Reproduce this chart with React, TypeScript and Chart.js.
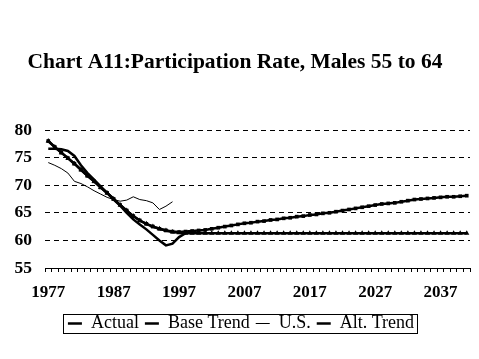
import React, { useEffect, useRef } from "react";
import { Chart, registerables } from "chart.js";

Chart.register(...registerables);

const years = [
  "1977", "1978", "1979", "1980", "1981", "1982", "1983", "1984", "1985", "1986",
  "1987", "1988", "1989", "1990", "1991", "1992", "1993", "1994", "1995", "1996",
  "1997", "1998", "1999", "2000", "2001", "2002", "2003", "2004", "2005", "2006",
  "2007", "2008", "2009", "2010", "2011", "2012", "2013", "2014", "2015", "2016",
  "2017", "2018", "2019", "2020", "2021", "2022", "2023", "2024", "2025", "2026",
  "2027", "2028", "2029", "2030", "2031", "2032", "2033", "2034", "2035", "2036",
  "2037", "2038", "2039", "2040", "2041",
];

const actual = [
  76.6, 76.6, 76.5, 76.2, 75.3, 73.6, 72.2, 71.0, 69.8, 68.6,
  67.4, 66.3, 65.0, 63.8, 62.9, 62.0, 61.0, 60.0, 59.1, 59.4,
  60.6, 61.3,
];

const baseTrend = [
  78.0, 76.9, 75.9, 74.9, 73.9, 72.8, 71.7, 70.7, 69.6, 68.6,
  67.5, 66.4, 65.4, 64.4, 63.6, 63.0, 62.5, 62.1, 61.8, 61.6,
  61.5, 61.6, 61.7, 61.8, 61.9, 62.1, 62.3, 62.5, 62.7, 62.9,
  63.1, 63.2, 63.4, 63.5, 63.7, 63.8, 64.0, 64.1, 64.3, 64.4,
  64.6, 64.7, 64.9, 65.0, 65.2, 65.4, 65.6, 65.8, 66.0, 66.2,
  66.4, 66.6, 66.7, 66.8, 67.0, 67.2, 67.4, 67.5, 67.6, 67.7,
  67.8, 67.9, 67.9, 68.0, 68.1,
];

const us = [
  74.1, 73.6, 73.0, 72.2, 70.7, 70.3, 69.7, 69.0, 68.4, 67.8,
  67.4, 67.1, 67.3, 67.9, 67.4, 67.2, 66.8, 65.6, 66.2, 67.0,
];

const altTrend = [
  78.0, 76.9, 75.9, 74.9, 73.9, 72.8, 71.7, 70.7, 69.6, 68.6,
  67.5, 66.4, 65.4, 64.4, 63.6, 63.0, 62.5, 62.1, 61.8, 61.5,
  61.4, 61.3, 61.3, 61.3, 61.3, 61.3, 61.3, 61.3, 61.3, 61.3,
  61.3, 61.3, 61.3, 61.3, 61.3, 61.3, 61.3, 61.3, 61.3, 61.3,
  61.3, 61.3, 61.3, 61.3, 61.3, 61.3, 61.3, 61.3, 61.3, 61.3,
  61.3, 61.3, 61.3, 61.3, 61.3, 61.3, 61.3, 61.3, 61.3, 61.3,
  61.3, 61.3, 61.3, 61.3, 61.3,
];

const yTicks = [55, 60, 65, 70, 75, 80];

const SERIF = "'Times New Roman', 'Liberation Serif', serif";

const legendShift = {
  id: "legendShift",
  afterLayout(chart: any) {
    const lg = chart.legend;
    if (!lg) return;
    const dx = 6;
    lg.left += dx;
    lg.right += dx;
    if (lg.legendHitBoxes) lg.legendHitBoxes.forEach((h: any) => { h.left += dx; });
  },
};

const legendBorder = {
  id: "legendBorder",
  afterDraw(chart: any) {
    const lg = chart.legend;
    if (!lg || !lg.legendHitBoxes || !lg.legendHitBoxes.length) return;
    const hb = lg.legendHitBoxes;
    let l = Infinity, r = -Infinity, t = Infinity, b = -Infinity;
    hb.forEach((h: any) => {
      l = Math.min(l, h.left);
      r = Math.max(r, h.left + h.width);
      t = Math.min(t, h.top);
      b = Math.max(b, h.top + h.height);
    });
    const ctx = chart.ctx;
    ctx.save();
    ctx.strokeStyle = "#000";
    ctx.lineWidth = 1;
    ctx.strokeRect(Math.round(l - 5) + 0.5, Math.round(t - 1) + 0.5, Math.round(r - l + 8), Math.round(b - t + 1));
    ctx.restore();
  },
};

export default function App() {
  const ref = useRef<HTMLCanvasElement | null>(null);
  useEffect(() => {
    if (!ref.current) return;
    const chart = new Chart(ref.current, {
      type: "line",
      data: {
        labels: years,
        datasets: [
          { label: "Actual", data: actual, borderColor: "#000", borderWidth: 2.5, pointRadius: 0, fill: false, tension: 0 },
          { label: "Base Trend", data: baseTrend, borderColor: "#000", backgroundColor: "#000", borderWidth: 2.5, pointStyle: "rect", pointRadius: 2.6, pointBackgroundColor: "#000", pointBorderColor: "#000", pointBorderWidth: 0, fill: false },
          { label: "U.S.", data: us, borderColor: "#000", borderWidth: 1, pointRadius: 0, fill: false },
          { label: "Alt. Trend", data: altTrend, borderColor: "#000", backgroundColor: "#000", borderWidth: 2.5, pointStyle: "triangle", pointRadius: 3, pointBackgroundColor: "#000", pointBorderColor: "#000", pointBorderWidth: 0, fill: false },
        ],
      },
      options: {
        animation: false,
        responsive: false,
        maintainAspectRatio: false,
        layout: { padding: { left: 0, right: 9, top: 0, bottom: 16.5 } },
        plugins: {
          title: {
            display: true,
            text: "Chart A11:Participation Rate, Males 55 to 64",
            color: "#000",
            font: { family: SERIF, size: 21.5, weight: "bold", lineHeight: 1.2 },
            padding: { top: 50, bottom: 54.2 },
          },
          legend: {
            display: true,
            position: "bottom",
            labels: {
              color: "#000",
              font: { family: SERIF, size: 18 },
              usePointStyle: true,
              pointStyleWidth: 14,
              padding: 6,
              generateLabels: (c: any) =>
                c.data.datasets.map((ds: any, i: number) => ({
                  text: ds.label,
                  pointStyle: "line",
                  lineWidth: ds.borderWidth,
                  strokeStyle: "#000",
                  fillStyle: "#000",
                  datasetIndex: i,
                  hidden: false,
                })),
            },
          },
          tooltip: { enabled: false },
        },
        scales: {
          x: {
            type: "category",
            offset: true,
            grid: { display: true, drawOnChartArea: false, drawTicks: true, tickLength: 4, color: "#000", offset: true },
            border: { display: true, color: "#000", width: 1 },
            ticks: {
              autoSkip: false,
              maxRotation: 0,
              minRotation: 0,
              padding: 10,
              color: "#000",
              font: { family: SERIF, size: 17, weight: "bold" },
              callback: function (this: any, v: any, i: number) {
                return i % 10 === 0 ? years[i] : "";
              },
            },
            afterFit: (s: any) => {
              s.height = 40.5;
            },
          },
          y: {
            min: 55,
            max: 80,
            afterBuildTicks: (s: any) => {
              s.ticks = yTicks.map((v) => ({ value: v }));
            },
            grid: {
              drawTicks: false,
              color: (ctx: any) => (ctx.tick && ctx.tick.value === 55 ? "rgba(0,0,0,0)" : "#000"),
              lineWidth: 1,
            },
            border: { display: false, dash: [5, 4] },
            ticks: {
              padding: 13,
              color: "#000",
              font: { family: SERIF, size: 17.5, weight: "bold" },
            },
            afterFit: (s: any) => {
              s.width = 45;
            },
          },
        },
      },
      plugins: [legendShift, legendBorder],
    } as any);
    return () => chart.destroy();
  }, []);
  return (
    <div style={{ position: "fixed", left: 0, top: 0, width: 479, height: 359, background: "#fff" }}>
      <canvas ref={ref} width={479} height={359} style={{ width: 479, height: 359 }} />
    </div>
  );
}
